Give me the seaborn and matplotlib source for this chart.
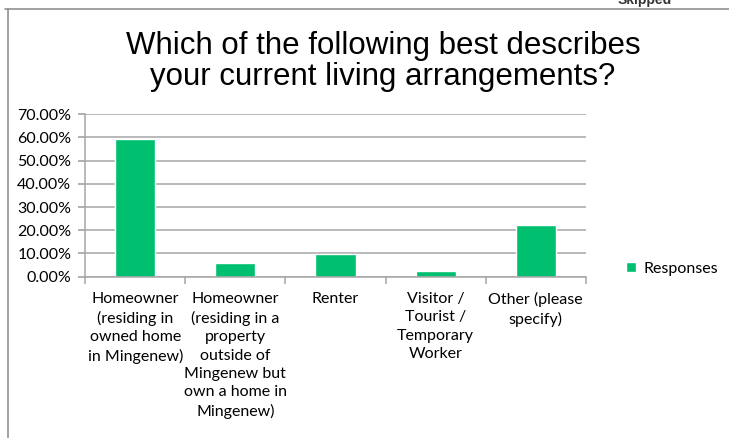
import matplotlib
matplotlib.use("Agg")
import matplotlib.pyplot as plt
import seaborn as sns
import pandas as pd
from matplotlib.lines import Line2D
from matplotlib.ticker import FuncFormatter, FixedLocator

categories = [
    "Homeowner\n(residing in\nowned home\nin Mingenew)",
    "Homeowner\n(residing in a\nproperty\noutside of\nMingenew but\nown a home in\nMingenew)",
    "Renter",
    "Visitor /\nTourist /\nTemporary\nWorker",
    "Other (please\nspecify)",
]
values = [59.2, 6.0, 9.9, 2.4, 22.1]
series = ["Responses"] * len(categories)
yticks = [0, 10, 20, 30, 40, 50, 60, 70]

df = pd.DataFrame({"category": categories, "value": values, "series": series})

sns.set_theme(style="white")
plt.rcParams["font.family"] = ["Lato", "DejaVu Sans"]
plt.rcParams["text.color"] = "black"

W, H = 729, 438
fig = plt.figure(figsize=(W / 100, H / 100), dpi=100)
ax = fig.add_axes([85.3 / W, 1 - 276.7 / H, (585.7 - 85.3) / W, (276.7 - 114.2) / H])

green = "#00BF6F"
sns.barplot(data=df, x="category", y="value", hue="series", palette=[green],
            width=0.4, ax=ax, saturation=1, legend=True)

ax.set_ylim(0, 70)
ax.set_xlim(-0.5, len(categories) - 0.5)
ax.yaxis.set_major_locator(FixedLocator(yticks))
ax.yaxis.set_major_formatter(FuncFormatter(lambda v, p: f"{v:.2f}%"))
ax.grid(axis="y", color="#a6a6a6", linewidth=1.1)
ax.set_axisbelow(True)
ax.set_xlabel("")
ax.set_ylabel("")
for s in ["top", "right"]:
    ax.spines[s].set_visible(False)
for s in ["left", "bottom"]:
    ax.spines[s].set_color("#a6a6a6")
    ax.spines[s].set_linewidth(1.1)

ax.tick_params(axis="y", which="major", left=True, length=5, color="#a6a6a6",
               labelsize=11.5, labelcolor="black", pad=5)
ax.tick_params(axis="x", which="major", bottom=False, length=0, labelsize=11.5,
               labelcolor="black", pad=11)
ax.set_xticks(range(len(categories)))
ax.set_xticklabels(categories, linespacing=1.4, va="top")
ax.set_xticks([i - 0.5 for i in range(len(categories) + 1)], minor=True)
ax.tick_params(axis="x", which="minor", bottom=True, length=5, color="#a6a6a6", width=1.1)

leg = ax.legend(loc="center left", bbox_to_anchor=(1.051, 0.05), frameon=False,
                fontsize=11.5, handlelength=0.65, handleheight=0.65, handletextpad=0.5)
leg.set_title(None)
for t in leg.get_texts():
    t.set_color("black")

fig.text(383 / W, 1 - 46 / H, "Which of the following best describes",
         ha="center", va="center", fontsize=22.5, family="Liberation Sans", color="black")
fig.text(383 / W, 1 - 77 / H, "your current living arrangements?",
         ha="center", va="center", fontsize=22.5, family="Liberation Sans", color="black")

fig.text(645 / W, 1 - 4 / H, "Skipped", ha="center", va="baseline",
         fontsize=10, fontweight="bold", family="Liberation Sans", color="#333333")

fig.add_artist(Line2D([5 / W, 1], [1 - 9 / H, 1 - 9 / H], transform=fig.transFigure,
                      color="#909090", linewidth=1.2))
fig.add_artist(Line2D([7.5 / W, 7.5 / W], [1 - 9 / H, 0], transform=fig.transFigure,
                      color="#909090", linewidth=1.2))

fig.savefig("out.png", dpi=100)
